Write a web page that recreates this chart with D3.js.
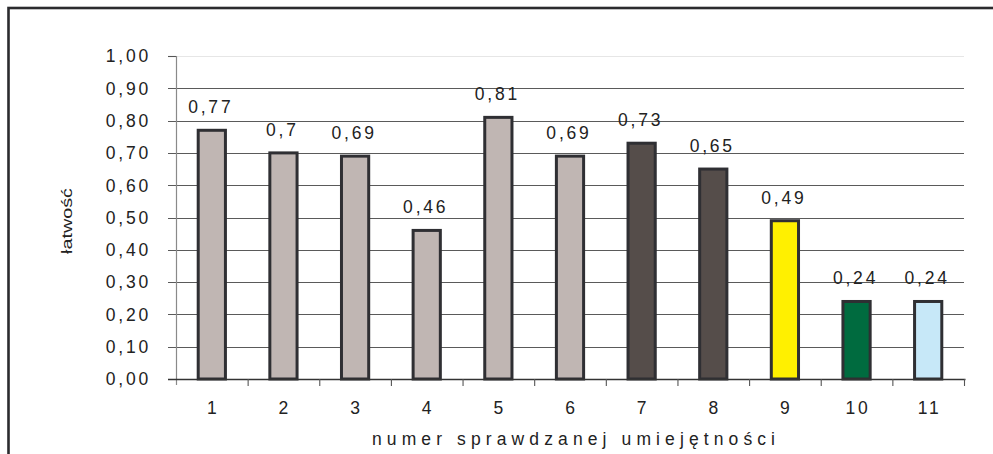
<!DOCTYPE html>
<html>
<head>
<meta charset="utf-8">
<script src="https://cdn.jsdelivr.net/npm/d3@7"></script>
<style>
  html, body { margin: 0; padding: 0; background: #fff; }
  svg { display: block; }
  text { font-family: "Liberation Sans", Arial, sans-serif; fill: #222; }
</style>
</head>
<body>
<svg id="chart" width="993" height="454"></svg>
<script>
const categories = ["1", "2", "3", "4", "5", "6", "7", "8", "9", "10", "11"];
const values = [0.77, 0.7, 0.69, 0.46, 0.81, 0.69, 0.73, 0.65, 0.49, 0.24, 0.24];
const valueLabels = ["0,77", "0,7", "0,69", "0,46", "0,81", "0,69", "0,73", "0,65", "0,49", "0,24", "0,24"];
const barColors = ["#c0b6b3", "#c0b6b3", "#c0b6b3", "#c0b6b3", "#c0b6b3", "#c0b6b3",
                   "#554d4a", "#554d4a", "#fff000", "#006b3f", "#c7e8f8"];
const yTicks = [0, 0.1, 0.2, 0.3, 0.4, 0.5, 0.6, 0.7, 0.8, 0.9, 1.0];
const yTickLabels = ["0,00", "0,10", "0,20", "0,30", "0,40", "0,50", "0,60", "0,70", "0,80", "0,90", "1,00"];
const yTitle = "łatwość";
const xTitle = "numer sprawdzanej umiejętności";

const svg = d3.select("#chart");
const plot = { left: 176, right: 964, top: 56, bottom: 379 };

// outer frame (cut off at right and bottom)
svg.append("rect")
  .attr("x", 8.5).attr("y", 8).attr("width", 1100).attr("height", 600)
  .attr("fill", "none").attr("stroke", "#2b2b2e").attr("stroke-width", 2.6);

const x = d3.scaleBand().domain(categories).range([plot.left, plot.right])
  .paddingInner(0.62).paddingOuter(0.31);
const y = d3.scaleLinear().domain([0, 1]).range([plot.bottom, plot.top]);
const step = x.step();

// gridlines + y tick marks
svg.append("g").selectAll("line").data(yTicks.filter(d => d > 0)).join("line")
  .attr("x1", plot.left - 8).attr("x2", plot.right)
  .attr("y1", d => Math.round(y(d)) + 0.5).attr("y2", d => Math.round(y(d)) + 0.5)
  .attr("stroke", d => d === 1 ? "#e6e6e6" : "#5a5a5a").attr("stroke-width", 1.1);
svg.append("line")
  .attr("x1", plot.left - 8).attr("x2", plot.left)
  .attr("y1", Math.round(y(1)) + 0.5).attr("y2", Math.round(y(1)) + 0.5)
  .attr("stroke", "#555").attr("stroke-width", 1.1);

// y axis line
svg.append("line")
  .attr("x1", plot.left + 0.5).attr("x2", plot.left + 0.5)
  .attr("y1", plot.top).attr("y2", plot.bottom + 6)
  .attr("stroke", "#8a8a8a").attr("stroke-width", 1.2);

// y tick labels
svg.append("g").selectAll("text").data(yTicks).join("text")
  .attr("x", 151).attr("y", d => y(d))
  .attr("dy", "0.36em").attr("text-anchor", "end")
  .style("font-size", "17.5px").style("letter-spacing", "2.8px")
  .text((d, i) => yTickLabels[i]);

// bars
svg.append("g").selectAll("rect").data(values).join("rect")
  .attr("x", (d, i) => x(categories[i]))
  .attr("y", d => y(d))
  .attr("width", x.bandwidth())
  .attr("height", d => y(0) - y(d))
  .attr("fill", (d, i) => barColors[i])
  .attr("stroke", "#2f2f33").attr("stroke-width", 3);

// x axis line + ticks
svg.append("line")
  .attr("x1", plot.left - 8).attr("x2", plot.right + 1.5)
  .attr("y1", plot.bottom + 0.5).attr("y2", plot.bottom + 0.5)
  .attr("stroke", "#333").attr("stroke-width", 1.3);
const tickPos = d3.range(categories.length + 1).map(i => plot.left + i * step);
svg.append("g").selectAll("line").data(tickPos.slice(1)).join("line")
  .attr("x1", d => d + 0.5).attr("x2", d => d + 0.5)
  .attr("y1", plot.bottom).attr("y2", plot.bottom + 7)
  .attr("stroke", "#555").attr("stroke-width", 1.1);

// x tick labels
svg.append("g").selectAll("text").data(categories).join("text")
  .attr("x", d => x(d) + x.bandwidth() / 2 + 1.4)
  .attr("y", 408).attr("dy", "0.36em").attr("text-anchor", "middle")
  .style("font-size", "17.5px").style("letter-spacing", "2.8px")
  .text(d => d);

// value labels
svg.append("g").selectAll("text").data(values).join("text")
  .attr("x", (d, i) => x(categories[i]) + x.bandwidth() / 2 - 1)
  .attr("y", d => y(d) - 17).attr("text-anchor", "middle")
  .style("font-size", "17.5px").style("letter-spacing", "2.8px")
  .text((d, i) => valueLabels[i]);

// x title
svg.append("text")
  .attr("x", 372).attr("y", 445)
  .attr("textLength", 403).attr("lengthAdjust", "spacing")
  .style("font-size", "17.5px")
  .text(xTitle);

// y title
svg.append("text")
  .attr("transform", "translate(71.5,221) rotate(-90)")
  .attr("text-anchor", "middle")
  .attr("textLength", 66).attr("lengthAdjust", "spacingAndGlyphs")
  .style("font-size", "14px")
  .text(yTitle);
</script>
</body>
</html>
